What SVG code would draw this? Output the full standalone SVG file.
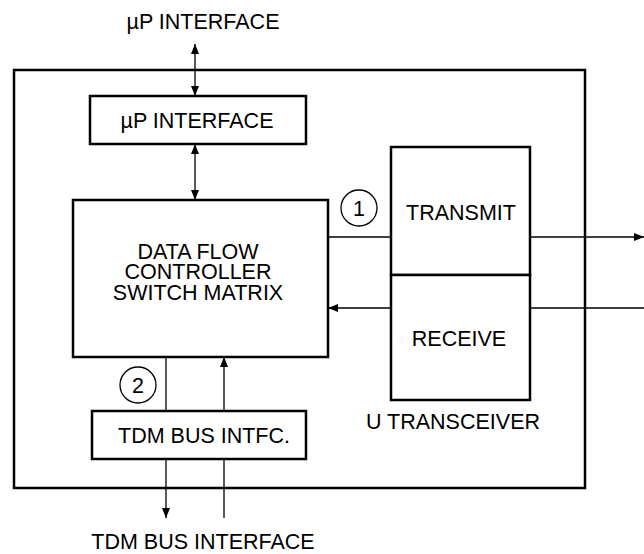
<svg xmlns="http://www.w3.org/2000/svg" width="644" height="554" viewBox="0 0 644 554">
<style>
.box{fill:#fff;stroke:#000;stroke-width:2.5}
.ln{fill:none;stroke:#000;stroke-width:1.3}
.t{font-family:"Liberation Sans",Arial,sans-serif;font-size:21.5px;fill:#000;text-anchor:middle}
.c{fill:#fff;stroke:#000;stroke-width:1.3}
</style>
<defs>
<marker id="ah" viewBox="0 0 10 10" refX="10" refY="5" markerWidth="10" markerHeight="10" markerUnits="userSpaceOnUse" orient="auto-start-reverse">
<path d="M0,1 L10,5 L0,9 Z" fill="#000"/>
</marker>
</defs>
<g id="outer"><rect class="box" x="14" y="70" width="571" height="418"/></g>
<g id="connectors">
<line class="ln" x1="195" y1="44" x2="195" y2="96" marker-start="url(#ah)" marker-end="url(#ah)"/>
<line class="ln" x1="195" y1="144" x2="195" y2="200" marker-start="url(#ah)" marker-end="url(#ah)"/>
<line class="ln" x1="328" y1="237" x2="391" y2="237"/>
<line class="ln" x1="530" y1="237" x2="644" y2="237" marker-end="url(#ah)"/>
<line class="ln" x1="644" y1="308" x2="328" y2="308" marker-end="url(#ah)"/>
<line class="ln" x1="166" y1="357" x2="166" y2="411"/>
<line class="ln" x1="224" y1="411" x2="224" y2="357" marker-end="url(#ah)"/>
<line class="ln" x1="166" y1="459" x2="166" y2="518" marker-end="url(#ah)"/>
<line class="ln" x1="224" y1="459" x2="224" y2="518"/>
</g>
<g id="label-top"><text class="t" x="203" y="29">µP INTERFACE</text></g>
<g id="up-interface">
<rect class="box" x="90" y="96" width="216" height="48"/>
<text class="t" x="197" y="128">µP INTERFACE</text>
</g>
<g id="dfc">
<rect class="box" x="73" y="200" width="255" height="157"/>
<text class="t" x="198" y="259">DATA FLOW</text>
<text class="t" x="198" y="279">CONTROLLER</text>
<text class="t" x="198" y="300">SWITCH MATRIX</text>
</g>
<g id="transmit">
<rect class="box" x="391" y="147" width="139" height="128"/>
<text class="t" x="461" y="220">TRANSMIT</text>
</g>
<g id="receive">
<rect class="box" x="391" y="275" width="139" height="125"/>
<text class="t" x="459" y="346">RECEIVE</text>
</g>
<g id="u-transceiver-label"><text class="t" x="453" y="429">U TRANSCEIVER</text></g>
<g id="tdm">
<rect class="box" x="92" y="411" width="214" height="48"/>
<text class="t" x="204" y="443">TDM BUS INTFC.</text>
</g>
<g id="label-bottom"><text class="t" x="203" y="549">TDM BUS INTERFACE</text></g>
<g id="circle1">
<circle class="c" cx="359" cy="208" r="18"/>
<text class="t" x="359" y="216">1</text>
</g>
<g id="circle2">
<circle class="c" cx="138" cy="385" r="18"/>
<text class="t" x="138" y="393">2</text>
</g>
</svg>
